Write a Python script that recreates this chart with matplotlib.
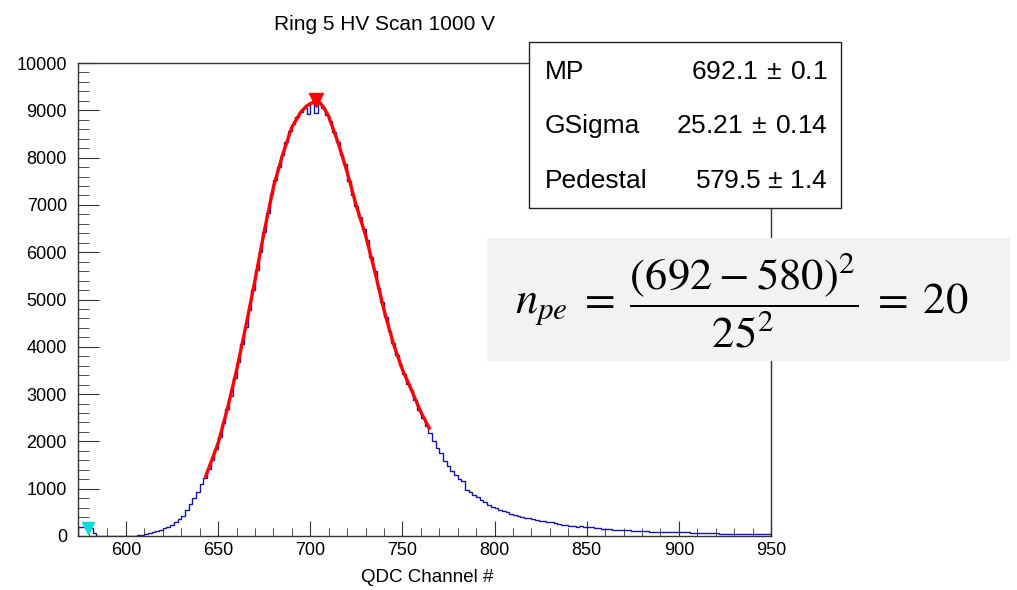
import numpy as np
import matplotlib
matplotlib.use("Agg")
import matplotlib.pyplot as plt
from matplotlib.patches import Rectangle
from matplotlib.ticker import MultipleLocator

# ---------------- data ----------------
title = "Ring 5 HV Scan 1000 V"
xlabel = "QDC Channel #"
bin_start = 574
bin_width = 2
counts = [
    190, 190, 180, 170, 60, 10,                      # 575-585
    0, 0, 0, 0, 0, 0, 0, 0, 0,                       # 587-603
    5, 15, 25, 45, 65, 85, 105, 130, 160, 195,       # 605-623
    235, 290, 350, 430, 540, 680, 800, 930, 1100, 1230,   # 625-643
    1420, 1600, 1830, 2100, 2380, 2680, 2950, 3330, 3680, 4050,  # 645-663
    4420, 4780, 5200, 5620, 6000, 6430, 6830, 7220, 7520, 7800,  # 665-683
    8060, 8320, 8560, 8720, 8850, 8970, 9050, 8920, 9150, 8950,  # 685-703
    9180, 9050, 8900, 8780, 8550, 8330, 8050, 7870, 7500, 7200,  # 705-723
    6980, 6750, 6480, 6250, 5900, 5600, 5250, 4950, 4620, 4330,  # 725-743
    4080, 3830, 3620, 3420, 3220, 3080, 2870, 2660, 2500, 2330,  # 745-763
    2180, 2000, 1850, 1750, 1580, 1480, 1380, 1300, 1200, 1160,  # 765-783
    980, 930, 870, 820, 770, 720, 660, 620, 590, 560,            # 785-803
    520, 500, 470, 450, 420, 400, 390, 370, 350, 340,            # 805-823
    320, 310, 300, 290, 270, 260, 240, 230, 220, 215,            # 825-843
    200, 205, 190, 185, 180, 170, 165, 150, 150, 140,            # 845-863
    135, 130, 125, 120, 118, 110, 115, 105, 100, 100,            # 865-883
    95, 95, 90, 95, 88, 85, 85, 82, 80, 78,                      # 885-903
    75, 70, 70, 65, 62, 60, 60, 58, 55, 52,                      # 905-923
    50, 48, 48, 45, 45, 42, 42, 40, 40, 45,                      # 925-943
    38, 36, 35,                                                  # 945-949
]

fit_x = [643, 650, 655, 660, 665, 670, 675, 680, 685, 690, 695, 698, 700, 702,
         703, 705, 707, 710, 715, 720, 725, 730, 735, 740, 745, 750, 755, 760, 765]
fit_y = [1230, 1960, 2680, 3500, 4420, 5400, 6430, 7370, 8060, 8640, 8970, 9090, 9140, 9170,
         9180, 9160, 9080, 8870, 8330, 7700, 6980, 6360, 5600, 4780, 4080, 3520, 3080, 2620, 2250]

peak_x, peak_y = 703, 9220
ped_x, ped_y = 579.5, 160

stat_names = ["MP", "GSigma", "Pedestal"]
stat_values = ["692.1$\\,\\pm\\,$0.1", "25.21$\\,\\pm\\,$0.14", "579.5 $\\pm$ 1.4"]

formula = r"$n_{pe}\;=\;\dfrac{(692\:-\:580)^2}{25^2}\;=\;20$"

# ---------------- figure ----------------
plt.rcParams['font.family'] = ['Liberation Sans', 'DejaVu Sans']
plt.rcParams['mathtext.fontset'] = 'custom'
plt.rcParams['mathtext.rm'] = 'Liberation Sans'

W, H = 1017, 590
fig = plt.figure(figsize=(W / 100, H / 100), dpi=100)

def fx(px):
    return px / W

def fy(py):
    return 1 - py / H

ax = fig.add_axes([fx(78), fy(536), fx(771) - fx(78), fy(63) - fy(536)])

edges = bin_start + bin_width * np.arange(len(counts) + 1)
ax.stairs(counts, edges, color='#1515a0', linewidth=1.0, zorder=2)
ax.plot(fit_x, fit_y, color='red', linewidth=2.4, zorder=3, solid_capstyle='butt')
ax.plot([peak_x], [peak_y], marker='v', color='red', markersize=10, zorder=4, clip_on=False)
ax.plot([ped_x], [ped_y], marker='v', color='#00e0e0', markersize=8.5, zorder=4, clip_on=False)

ax.set_xlim(574, 950)
ax.set_ylim(0, 10000)
ax.xaxis.set_major_locator(MultipleLocator(50))
ax.xaxis.set_minor_locator(MultipleLocator(10))
ax.yaxis.set_major_locator(MultipleLocator(1000))
ax.yaxis.set_minor_locator(MultipleLocator(200))

ax.tick_params(axis='x', which='both', direction='in', top=False, bottom=True,
               labelsize=13, pad=4, color='#333333')
ax.tick_params(axis='x', which='major', length=11)
ax.tick_params(axis='x', which='minor', length=6)
ax.tick_params(axis='y', which='both', direction='in', right=False, left=True,
               labelsize=13, pad=8, color='#333333')
ax.tick_params(axis='y', which='major', length=15)
ax.tick_params(axis='y', which='minor', length=8)
for s in ax.spines.values():
    s.set_color('#333333')
    s.set_linewidth(1.0)

fig.text(fx(385), fy(24), title, ha='center', va='center', fontsize=15)
fig.text(fx(427), fy(578), xlabel, ha='center', va='center', fontsize=13.5)

# stats box
fig.patches.append(Rectangle((fx(529), fy(208)), fx(841) - fx(529), fy(42) - fy(208),
                             transform=fig.transFigure, facecolor='white',
                             edgecolor='#222222', linewidth=1.0, zorder=10))
rows_y = [72, 126, 181]
for name, val, yy in zip(stat_names, stat_values, rows_y):
    fig.text(fx(545), fy(yy), name, ha='left', va='center', fontsize=19, zorder=11)
    fig.text(fx(828), fy(yy), val, ha='right', va='center', fontsize=19, zorder=11)

# formula box
fig.patches.append(Rectangle((fx(487), fy(361)), fx(1010) - fx(487), fy(238) - fy(361),
                             transform=fig.transFigure, facecolor='#f2f2f2',
                             edgecolor='none', zorder=10))
fig.text(fx(742), fy(300), formula, ha='center', va='center', fontsize=32, zorder=11,
         math_fontfamily='stix')

fig.savefig("out.png", dpi=100)
